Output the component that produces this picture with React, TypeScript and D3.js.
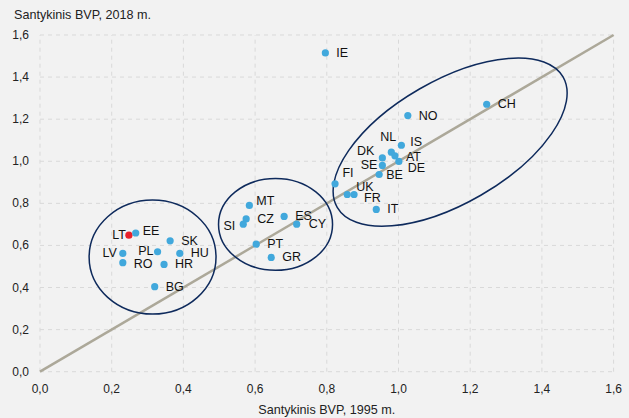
import React from "react";
import * as d3 from "d3";

const countries = ["IE","CH","NO","IS","NL","AT","DE","DK","SE","BE","FI","UK","FR","IT","MT","CZ","SI","ES","CY","PT","GR","LT","EE","SK","LV","PL","HU","RO","HR","BG"];
const gdp1995 = [0.796,1.246,1.026,1.008,0.980,0.990,1.001,0.955,0.955,0.946,0.823,0.857,0.876,0.938,0.584,0.575,0.567,0.681,0.716,0.603,0.645,0.248,0.267,0.363,0.231,0.328,0.390,0.231,0.346,0.320];
const gdp2018 = [1.515,1.271,1.217,1.076,1.043,1.026,0.999,1.016,0.980,0.937,0.893,0.842,0.842,0.771,0.790,0.726,0.701,0.738,0.701,0.606,0.543,0.649,0.659,0.622,0.562,0.570,0.562,0.518,0.510,0.404];
const highlight = ["LT"];
const xTicks = [0,0.2,0.4,0.6,0.8,1.0,1.2,1.4,1.6];
const yTicks = [0,0.2,0.4,0.6,0.8,1.0,1.2,1.4,1.6];
const xTitle = "Santykinis BVP, 1995 m.";
const yTitle = "Santykinis BVP, 2018 m.";

// label placement: [anchor, dx, dy]
const labelPos: Record<string, [string, number, number]> = {
  IE: ["start", 11, 0], CH: ["start", 11, 0], NO: ["start", 11, 0], IS: ["start", 9, -3],
  NL: ["middle", -3, -15], AT: ["start", 11, 1], DE: ["start", 9, 7], DK: ["end", -8, -7],
  SE: ["end", -5, 0], BE: ["start", 7, 0], FI: ["middle", 13, -11], UK: ["start", 9, -8],
  FR: ["start", 10, 3], IT: ["start", 11, 0], MT: ["start", 7, -4], CZ: ["start", 11, 0],
  SI: ["end", -8, 2], ES: ["start", 11, 0], CY: ["start", 12, 0], PT: ["start", 11, 0],
  GR: ["start", 11, 0], LT: ["end", -3, 0], EE: ["start", 7, -2], SK: ["start", 11, 0],
  LV: ["end", -6, 0], PL: ["end", -4, -1], HU: ["start", 11, 0], RO: ["start", 11, 1],
  HR: ["start", 11, 0], BG: ["start", 11, 0],
};

// cluster ellipses in data units: cx, cy, rx(x units), ry(y units), rotation deg
const groupCx = [0.314, 0.657, 1.144];
const groupCy = [0.545, 0.700, 1.091];
const groupRx = [0.177, 0.159, 0.3637];
const groupRy = [0.271, 0.218, 0.2915];
const groupRot = [0, 0, -30];

export default function App() {
  const W = 629, H = 418;
  const x = d3.scaleLinear().domain([0, 1.6]).range([40, 613.6]);
  const y = d3.scaleLinear().domain([0, 1.6]).range([371.7, 35]);
  const font = "'Liberation Sans', Arial, sans-serif";
  const pts = countries.map((c, i) => ({ c, x: gdp1995[i], y: gdp2018[i] }));
  const line = d3.line<[number, number]>().x(d => x(d[0])).y(d => y(d[1]));
  const pxPerX = x(1) - x(0);
  const pxPerY = y(0) - y(1);
  const fmt = (t: number) => d3.format(".1f")(t).replace(".", ",");
  return (
    <svg width={W} height={H} style={{ position: "absolute", left: 0, top: 0, background: "#f2f2f2" }} fontFamily={font}>
      <rect width={W} height={H} fill="#f2f2f2" />
      {xTicks.map(t => (
        <line key={"gx" + t} x1={x(t)} x2={x(t)} y1={y(0)} y2={y(1.6)} stroke="#d9d9d9" strokeDasharray="4,4" strokeWidth={1} />
      ))}
      {yTicks.map(t => (
        <line key={"gy" + t} x1={x(0)} x2={x(1.6)} y1={y(t)} y2={y(t)} stroke="#d9d9d9" strokeDasharray="4,4" strokeWidth={1} />
      ))}
      {xTicks.map(t => (
        <text key={"tx" + t} x={x(t)} y={389} textAnchor="middle" dominantBaseline="central" fontSize={12} fill="#222">
          {fmt(t)}
        </text>
      ))}
      {yTicks.map(t => (
        <text key={"ty" + t} x={29} y={y(t)} textAnchor="end" dominantBaseline="central" fontSize={12} fill="#222">
          {fmt(t)}
        </text>
      ))}
      <text x={14} y={15} dominantBaseline="central" fontSize={12.6} fill="#222">{yTitle}</text>
      <text x={(x(0) + x(1.6)) / 2} y={410} textAnchor="middle" dominantBaseline="central" fontSize={12.6} fill="#222">{xTitle}</text>
      <path d={line([[0, 0], [1.6, 1.6]]) || ""} stroke="#aca899" strokeWidth={2.5} fill="none" />
      {groupCx.map((cx, i) => (
        <ellipse key={"e" + i} cx={x(cx)} cy={y(groupCy[i])}
          rx={groupRx[i] * pxPerX}
          ry={groupRy[i] * pxPerY}
          transform={`rotate(${groupRot[i]} ${x(cx)} ${y(groupCy[i])})`}
          fill="none" stroke="#0e2a5c" strokeWidth={1.5} />
      ))}
      {pts.map(p => (
        <circle key={p.c} cx={x(p.x)} cy={y(p.y)} r={3.6} fill={highlight.includes(p.c) ? "#e8202a" : "#41a8dc"} />
      ))}
      {pts.map(p => {
        const [a, dx, dy] = labelPos[p.c];
        return (
          <text key={"l" + p.c} x={x(p.x) + dx} y={y(p.y) + dy} textAnchor={a as any} dominantBaseline="central" fontSize={12.5} fill="#111">
            {p.c}
          </text>
        );
      })}
    </svg>
  );
}
